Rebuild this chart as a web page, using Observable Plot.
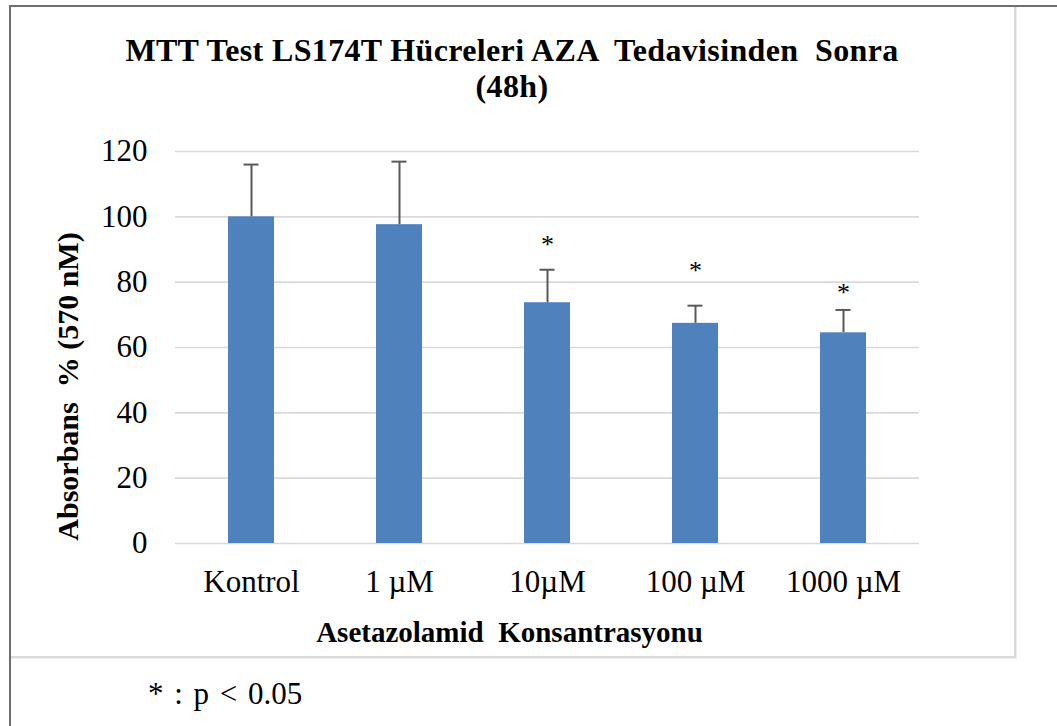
<!DOCTYPE html>
<html><head><meta charset="utf-8">
<script src="https://cdn.jsdelivr.net/npm/d3@7"></script>
<script src="https://cdn.jsdelivr.net/npm/@observablehq/plot@0.6"></script>
<style>
html,body{margin:0;padding:0;background:#fff;}
body{width:1057px;height:726px;overflow:hidden;position:relative;font-family:"Liberation Serif","Times New Roman",serif;color:#000;}
#topline{position:absolute;left:9px;top:5px;width:1048px;height:2px;background:#6e6e6e;}
#leftline{position:absolute;left:9px;top:5px;width:2px;height:721px;background:#6e6e6e;}
#box{position:absolute;left:9px;top:5px;width:1005px;height:651px;border-right:2px solid #d9d9d9;border-bottom:2px solid #d9d9d9;box-shadow:1px 1px 1px #eee;}
#title{position:absolute;left:9px;width:1006px;top:32px;text-align:center;font-weight:bold;font-size:32px;letter-spacing:0.35px;line-height:36px;white-space:pre;}
#chart{position:absolute;left:10px;top:100px;}
#note{position:absolute;left:148px;top:676px;font-size:31px;word-spacing:3px;line-height:1.15;white-space:pre;}
</style>
</head><body>
<div id="box"></div>
<div id="topline"></div>
<div id="leftline"></div>
<div id="title"></div>
<div id="chart"></div>
<div id="note"></div>
<script>
const titleLines = ["MTT Test LS174T Hücreleri AZA  Tedavisinden  Sonra", "(48h)"];
const categories = ["Kontrol", "1 µM", "10µM", "100 µM", "1000 µM"];
const means = [100, 97.6, 73.7, 67.4, 64.5];
const sds = [16, 19.3, 10.1, 5.4, 7];
const sigLabels = ["", "", "*", "*", "*"];
const sigY = [null, null, 91.5, 83.4, 76.8];
const yTicks = [0, 20, 40, 60, 80, 100, 120];
const yTitle = "Absorbans\u00a0 % (570 nM)";
const xTitle = "Asetazolamid\u00a0 Konsantrasyonu";
const footnote = "* : p < 0.05";

document.getElementById("title").textContent = titleLines.join("\n");
document.getElementById("note").textContent = footnote;

const data = categories.map((c, i) => ({c, m: means[i], top: means[i] + sds[i], sig: sigY[i], s: sigLabels[i]}));

const chart = Plot.plot({
  width: 1000, height: 560,
  marginLeft: 165, marginRight: 91, marginTop: 51, marginBottom: 117,
  style: {fontFamily: "Liberation Serif, Times New Roman, serif", fontSize: "31px", color: "#000", background: "transparent", overflow: "visible"},
  x: {domain: categories, paddingInner: 0.69, paddingOuter: 0.345, label: null, axis: null},
  y: {domain: [0, 120], label: null, axis: null},
  marks: [
    Plot.gridY(yTicks, {stroke: "#d9d9d9", strokeOpacity: 1, strokeWidth: 1.6}),
    Plot.barY(data, {x: "c", y: "m", fill: "#4f81bd"}),
    Plot.ruleX(data, {x: "c", y1: "m", y2: "top", stroke: "#595959", strokeWidth: 2}),
    Plot.tickY(data, {x: "c", y: "top", stroke: "#595959", strokeWidth: 2, insetLeft: 15.5, insetRight: 15.5}),
    Plot.text(data.filter(d => d.sig != null), {x: "c", y: "sig", text: "s", fontSize: 26, fill: "#000"}),
    Plot.axisX({tickSize: 0, tickPadding: 26, fontSize: 31, label: null}),
    Plot.axisY(yTicks, {tickSize: 0, tickPadding: 28, fontSize: 31, label: null}),
    Plot.text([yTitle], {frameAnchor: "left", textAnchor: "middle", lineAnchor: "middle", rotate: -90, dx: -107, dy: 39, fontWeight: "bold", fontSize: 30, fill: "#000"}),
    Plot.text([xTitle], {frameAnchor: "bottom", textAnchor: "middle", lineAnchor: "middle", dx: -38, dy: 89, fontWeight: "bold", fontSize: 29, fill: "#000"})
  ]
});
document.getElementById("chart").appendChild(chart);
</script>
</body></html>
